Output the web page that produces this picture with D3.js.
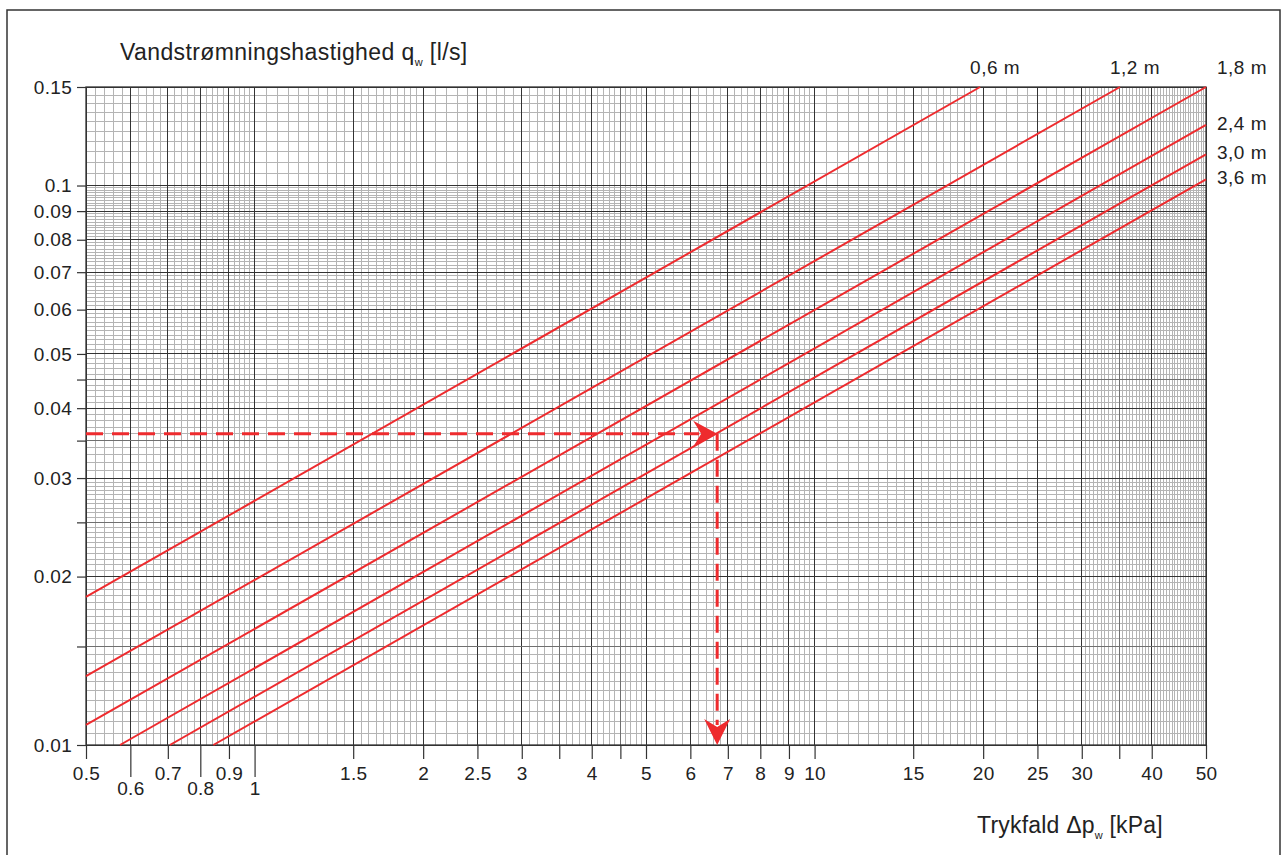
<!DOCTYPE html>
<html>
<head>
<meta charset="utf-8">
<script src="https://cdn.jsdelivr.net/npm/d3@7"></script>
<style>
  body { margin: 0; background: #fff; }
  text { font-family: "Liberation Sans", Arial, Helvetica, sans-serif; fill: #222; }
</style>
</head>
<body>
<svg id="chart" width="1282" height="855"></svg>
<script>
// pipe lengths and the end points of each line (Δp in kPa, q in l/s)
const lengths = ['0,6 m', '1,2 m', '1,8 m', '2,4 m', '3,0 m', '3,6 m'];
const dpStart = [0.5, 0.5, 0.5, 0.575, 0.706, 0.844];
const qStart = [0.01839, 0.01328, 0.01086, 0.01, 0.01, 0.01];
const dpEnd = [19.75, 35.1, 50, 50, 50, 50];
const qEnd = [0.15, 0.15, 0.15, 0.1283, 0.1137, 0.1026];

// example reading (dashed arrows)
const exampleQ = 0.036;
const exampleDp = 6.7;

// axis ticks
const xTicks = [0.5, 0.6, 0.7, 0.8, 0.9, 1, 1.5, 2, 2.5, 3, 3.5, 4, 4.5, 5, 6, 7, 8, 9, 10, 15, 20, 25, 30, 35, 40, 50];
const xTickLabels = ['0.5', '0.6', '0.7', '0.8', '0.9', '1', '1.5', '2', '2.5', '3', '', '4', '', '5', '6', '7', '8', '9', '10', '15', '20', '25', '30', '', '40', '50'];
const xLowerRow = [0.6, 0.8, 1];
const yTicks = [0.01, 0.015, 0.02, 0.025, 0.03, 0.035, 0.04, 0.045, 0.05, 0.06, 0.07, 0.08, 0.09, 0.1, 0.15];
const yTickLabels = ['0.01', '', '0.02', '', '0.03', '', '0.04', '', '0.05', '0.06', '0.07', '0.08', '0.09', '0.1', '0.15'];

// fine grid: [from, to, step]
const xMinor = [[0.5, 1, 0.02], [1, 2, 0.05], [2, 5, 0.1], [5, 10, 0.2], [10, 20, 0.5], [20, 30, 1], [30, 50, 0.5]];
const yMinor = [[0.01, 0.03, 0.0005], [0.03, 0.1, 0.001], [0.1, 0.15, 0.005]];

const svg = d3.select('#chart');
const margin = { left: 86, right: 76, top: 87, bottom: 110 };
const width = 1282 - margin.left - margin.right;   // 1120
const height = 855 - margin.top - margin.bottom;   // 658

const red = '#ee2b2e';
const fontFam = '"Liberation Sans", Arial, sans-serif';

// outer frame
svg.append('rect')
    .attr('x', 7).attr('y', 10)
    .attr('width', 1273).attr('height', 900)
    .attr('fill', 'none')
    .attr('stroke', '#333')
    .attr('stroke-width', 1.5);

const g = svg.append('g')
    .attr('transform', `translate(${margin.left},${margin.top})`);

// log scales
const x = d3.scaleLog().domain([0.5, 50]).range([0, width]);
const y = d3.scaleLog().domain([0.01, 0.15]).range([height, 0]);

// build the fine grid values
function minorValues(ranges) {
    const vals = [];
    ranges.forEach(([a, b, s]) => {
        d3.range(a + s, b - s / 2, s).forEach(v => vals.push(+v.toFixed(5)));
    });
    return vals;
}

// minor grid
g.append('g').selectAll('line')
    .data(minorValues(xMinor))
    .join('line')
    .attr('x1', d => x(d)).attr('x2', d => x(d))
    .attr('y1', 0).attr('y2', height)
    .attr('stroke', '#b4b4b4')
    .attr('stroke-width', 1)
    .attr('shape-rendering', 'crispEdges');

g.append('g').selectAll('line')
    .data(minorValues(yMinor))
    .join('line')
    .attr('x1', 0).attr('x2', width)
    .attr('y1', d => y(d)).attr('y2', d => y(d))
    .attr('stroke', '#b4b4b4')
    .attr('stroke-width', 1)
    .attr('shape-rendering', 'crispEdges');

// major grid
g.append('g').selectAll('line')
    .data(xTicks)
    .join('line')
    .attr('x1', d => x(d)).attr('x2', d => x(d))
    .attr('y1', 0).attr('y2', height)
    .attr('stroke', (d, i) => xTickLabels[i] === '' ? '#707070' : '#333')
    .attr('stroke-width', 1)
    .attr('shape-rendering', 'crispEdges');

g.append('g').selectAll('line')
    .data(yTicks)
    .join('line')
    .attr('x1', 0).attr('x2', width)
    .attr('y1', d => y(d)).attr('y2', d => y(d))
    .attr('stroke', (d, i) => yTickLabels[i] === '' ? '#707070' : '#333')
    .attr('stroke-width', 1)
    .attr('shape-rendering', 'crispEdges');

// plot border
g.append('rect')
    .attr('width', width).attr('height', height)
    .attr('fill', 'none')
    .attr('stroke', '#333')
    .attr('stroke-width', 1.3);

// axes
const xAxis = d3.axisBottom(x)
    .tickValues(xTicks)
    .tickFormat((d, i) => xTickLabels[i])
    .tickSize(14)
    .tickPadding(8);

const xg = g.append('g')
    .attr('transform', `translate(0,${height})`)
    .call(xAxis);

xg.select('.domain').remove();
xg.selectAll('.tick line').attr('stroke', '#333').attr('stroke-width', 1.2);
xg.selectAll('.tick text')
    .style('font-size', '19px')
    .style('letter-spacing', '0.3px')
    .style('font-family', fontFam)
    .attr('fill', '#222');

// staggered labels for 0.6, 0.8 and 1
xg.selectAll('.tick')
    .filter(d => xLowerRow.includes(d))
    .each(function () {
        d3.select(this).select('line').attr('y2', 32);
        d3.select(this).select('text').attr('y', 37);
    });

const yAxis = d3.axisLeft(y)
    .tickValues(yTicks)
    .tickFormat((d, i) => yTickLabels[i])
    .tickSize(9)
    .tickPadding(5);

const yg = g.append('g').call(yAxis);
yg.select('.domain').remove();
yg.selectAll('.tick line').attr('stroke', '#333').attr('stroke-width', 1.2);
yg.selectAll('.tick text')
    .style('font-size', '19px')
    .style('letter-spacing', '0.3px')
    .style('font-family', fontFam)
    .attr('fill', '#222');

// pressure drop lines for each pipe length
const lineData = lengths.map((name, i) => ({
    name,
    pts: [[dpStart[i], qStart[i]], [dpEnd[i], qEnd[i]]]
}));

const line = d3.line()
    .x(d => x(d[0]))
    .y(d => y(d[1]));

g.append('g').selectAll('path')
    .data(lineData)
    .join('path')
    .attr('d', d => line(d.pts))
    .attr('fill', 'none')
    .attr('stroke', red)
    .attr('stroke-width', 2);

// line labels: the ones ending at the top go above, the rest to the right
g.append('g').selectAll('text')
    .data(lineData)
    .join('text')
    .attr('x', (d, i) => dpEnd[i] < 50 ? x(dpEnd[i]) - 10 : width + 11)
    .attr('y', (d, i) => qEnd[i] >= 0.15 ? -13 : y(qEnd[i]) + 5)
    .style('font-size', '19px')
    .style('letter-spacing', '0.5px')
    .text(d => d.name);

// example reading: dashed arrows
const ex = x(exampleDp), ey = y(exampleQ);

g.append('line')
    .attr('x1', 0).attr('x2', ex - 18)
    .attr('y1', ey).attr('y2', ey)
    .attr('stroke', red)
    .attr('stroke-width', 3)
    .attr('stroke-dasharray', '17 9');

g.append('line')
    .attr('x1', ex).attr('x2', ex)
    .attr('y1', ey).attr('y2', height - 20)
    .attr('stroke', red)
    .attr('stroke-width', 3)
    .attr('stroke-dasharray', '17 9');

// arrow heads
g.append('path')
    .attr('d', `M${ex},${ey} L${ex - 24},${ey - 13} L${ex - 16},${ey} L${ex - 24},${ey + 13} Z`)
    .attr('fill', red);

g.append('path')
    .attr('d', `M${ex},${height} L${ex - 13},${height - 26} L${ex},${height - 18} L${ex + 13},${height - 26} Z`)
    .attr('fill', red);

// axis titles
const yTitle = svg.append('text')
    .attr('x', 120).attr('y', 60)
    .style('font-size', '23px')
    .style('letter-spacing', '0.4px');
yTitle.append('tspan').text('Vandstrømningshastighed q');
yTitle.append('tspan').attr('dy', 6).style('font-size', '11px').text('w');
yTitle.append('tspan').attr('dy', -6).text(' [l/s]');

const xTitle = svg.append('text')
    .attr('x', 977).attr('y', 833)
    .style('font-size', '23px')
    .style('letter-spacing', '0.2px');
xTitle.append('tspan').text('Trykfald Δp');
xTitle.append('tspan').attr('dy', 6).style('font-size', '11px').text('w');
xTitle.append('tspan').attr('dy', -6).text(' [kPa]');
</script>
</body>
</html>
